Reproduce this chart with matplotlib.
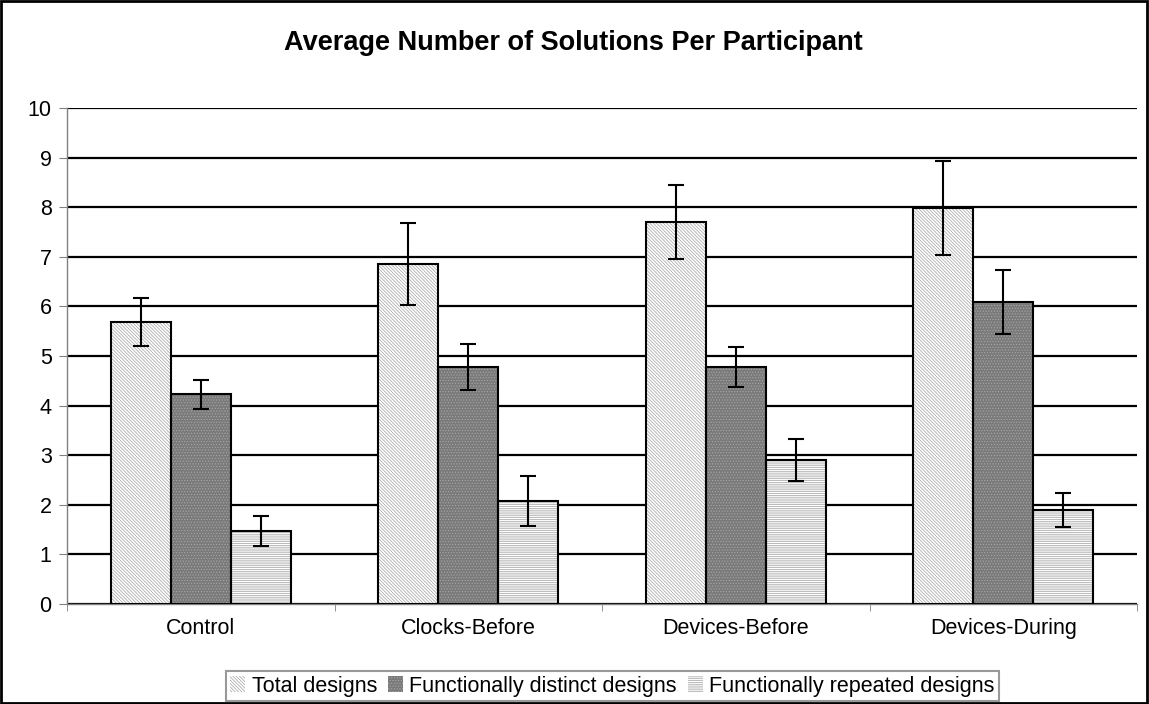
import matplotlib.pyplot as plt
import numpy as np
from matplotlib.patches import Patch, Rectangle

plt.rcParams['font.family'] = ['Liberation Sans', 'DejaVu Sans']
plt.rcParams['hatch.linewidth'] = 0.5

categories = ['Control', 'Clocks-Before', 'Devices-Before', 'Devices-During']
series = ['Total designs', 'Functionally distinct designs', 'Functionally repeated designs']
total = [5.69, 6.85, 7.70, 7.98]
total_err = [0.48, 0.83, 0.74, 0.95]
distinct = [4.23, 4.78, 4.78, 6.09]
distinct_err = [0.29, 0.46, 0.41, 0.65]
repeated = [1.47, 2.08, 2.90, 1.90]
repeated_err = [0.30, 0.50, 0.42, 0.34]

values = [total, distinct, repeated]
errors = [total_err, distinct_err, repeated_err]
faces = ['white', '#7a7a7a', 'white']
hatch_cols = ['#a0a0a0', '#a8a8a8', '#a0a0a0']
hatches = ['\\' * 10, '.' * 6, '-' * 9]

fig = plt.figure(figsize=(11.49, 7.04), dpi=100)
ax = fig.add_axes([0.0583, 0.142, 0.9313, 0.7046])

x = np.arange(len(categories))
w = 0.224
for i in range(3):
    pos = x + (i - 1) * w
    ax.bar(pos, values[i], w, color=faces[i], edgecolor=hatch_cols[i],
           hatch=hatches[i], linewidth=0, zorder=2)
    ax.bar(pos, values[i], w, fill=False, edgecolor='black', linewidth=1.5, zorder=3)
    ax.errorbar(pos, values[i], yerr=errors[i], fmt='none', ecolor='black',
                elinewidth=1.5, capsize=6, capthick=1.5, zorder=4)

ax.set_xlim(-0.5, len(categories) - 0.5)
ax.set_ylim(0, 10)
ax.set_yticks(range(0, 11))
ax.yaxis.grid(True, color='black', linewidth=1.6, zorder=0)
ax.set_axisbelow(True)
ax.set_xticks(x)
ax.set_xticklabels(categories)
ax.set_xticks(np.arange(-0.5, len(categories)), minor=True)
ax.tick_params(axis='x', which='major', length=0, pad=10, labelsize=15.5)
ax.tick_params(axis='x', which='minor', length=5, color='#808080')
ax.tick_params(axis='y', length=6, color='#808080', labelsize=15.5, pad=5)
for s in ['top', 'right']:
    ax.spines[s].set_visible(False)
for s in ['left', 'bottom']:
    ax.spines[s].set_color('#808080')
    ax.spines[s].set_linewidth(1)

fig.suptitle('Average Number of Solutions Per Participant', fontsize=19.5,
             fontweight='bold', x=0.499, y=0.957)

handles = []
for i in range(3):
    handles.append(Patch(facecolor=faces[i], edgecolor=hatch_cols[i],
                         hatch=hatches[i], linewidth=0))
leg = fig.legend(handles, series, loc='center', bbox_to_anchor=(0.533, 0.0255),
                 ncol=3, frameon=True, fancybox=False, edgecolor='#808080',
                 fontsize=15.5, handlelength=0.7, handleheight=0.7,
                 handletextpad=0.3, columnspacing=0.5, borderpad=0.2,
                 borderaxespad=0)
leg.get_frame().set_linewidth(1.5)

fig.patches.append(Rectangle((0.001, 0.001), 0.997, 0.997, transform=fig.transFigure,
                             fill=False, edgecolor='black', linewidth=2))

fig.savefig('out.png', dpi=100)
